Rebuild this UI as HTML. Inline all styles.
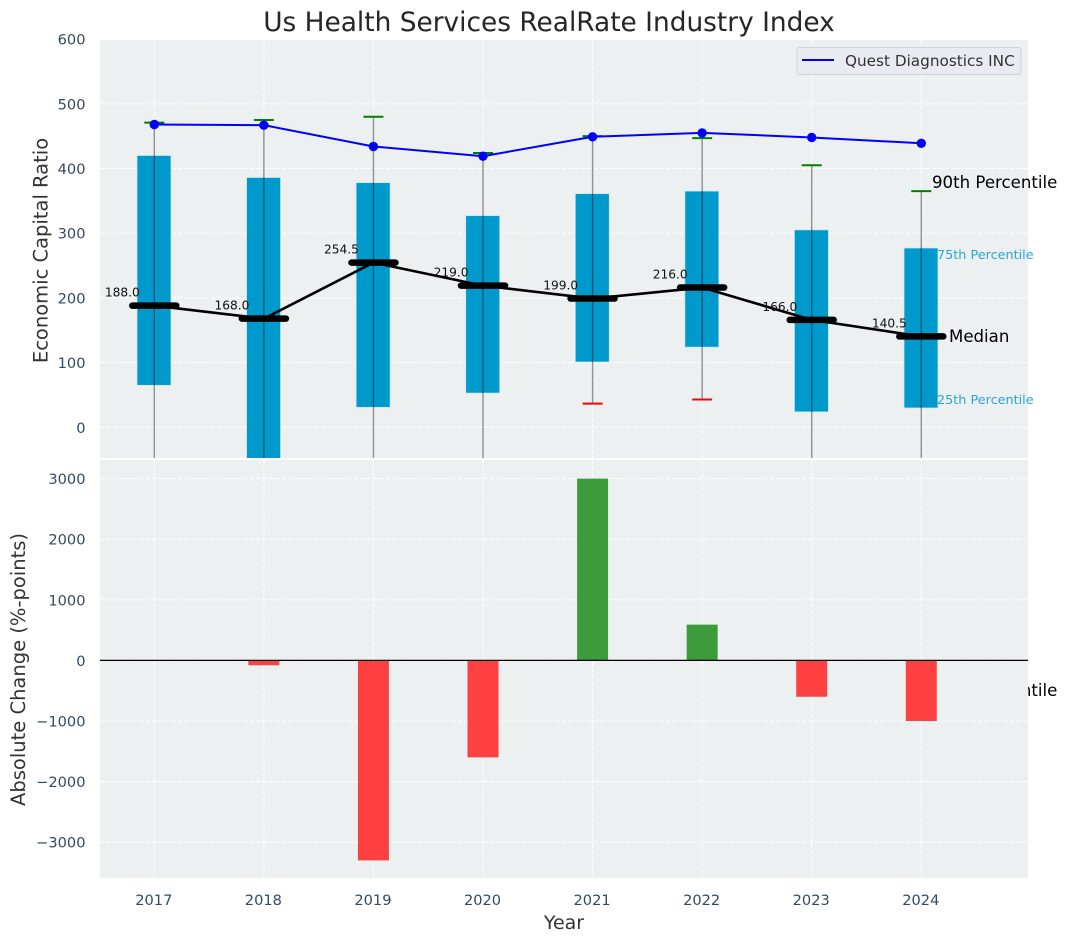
<!DOCTYPE html>
<html lang="en">
<head>
<meta charset="utf-8">
<title>Us Health Services RealRate Industry Index</title>
<style>
html,body{margin:0;padding:0;background:#fff;width:1067px;height:942px;overflow:hidden}
svg{display:block}
text{font-family:"DejaVu Sans","Liberation Sans",sans-serif}
</style>
</head>
<body>
<svg id="chart" xmlns="http://www.w3.org/2000/svg" width="1067" height="942" viewBox="0 0 1067 942">
  <defs>
    <clipPath id="clipTop"><rect x="100" y="40" width="928" height="418"/></clipPath>
    <clipPath id="clipBottom"><rect x="100" y="460" width="928" height="418"/></clipPath>
  </defs>
  <rect x="0" y="0" width="1067" height="942" fill="#ffffff"/>
  <text x="549" y="31" font-size="26.4" fill="#262626" text-anchor="middle">Us Health Services RealRate Industry Index</text>
  <rect x="100" y="40" width="928" height="418" fill="#ecf0f1"/>
  <g id="topGrid" clip-path="url(#clipTop)"></g>
  <g id="topMarks" clip-path="url(#clipTop)"></g>
  <g id="topLabels"></g>
  <text x="932" y="188" font-size="16.6" fill="#000">90th Percentile</text>
  <text x="937" y="259" font-size="12.8" fill="#2aa5d3">75th Percentile</text>
  <text x="949" y="342" font-size="16.6" fill="#000">Median</text>
  <text x="937" y="404" font-size="12.8" fill="#2aa5d3">25th Percentile</text>
  <text x="932" y="696" font-size="16.6" fill="#000">10th Percentile</text>
  <rect x="100" y="460" width="928" height="418" fill="#ecf0f1"/>
  <g id="bottomGrid" clip-path="url(#clipBottom)"></g>
  <g id="bottomMarks" clip-path="url(#clipBottom)"></g>
  <g id="ticks"></g>
  <text transform="translate(47.5,250.5) rotate(-90)" font-size="19.5" fill="#333" text-anchor="middle">Economic Capital Ratio</text>
  <text transform="translate(25,669.5) rotate(-90)" font-size="19.5" fill="#333" text-anchor="middle">Absolute Change (%-points)</text>
  <text x="564" y="929" font-size="19" fill="#333" text-anchor="middle">Year</text>
  <g>
    <rect x="797" y="47.5" width="224" height="27" rx="2.5" fill="#eaeaf2" stroke="#d0d0d4" stroke-width="1"/>
    <line x1="802" y1="60" x2="834" y2="60" stroke="#0000ff" stroke-width="2"/>
    <text x="845" y="66" font-size="15.25" fill="#333">Quest Diagnostics INC</text>
  </g>
</svg>
<script>
const years = [2017, 2018, 2019, 2020, 2021, 2022, 2023, 2024];
const p90 = [471, 475, 480, 424, 450, 447, 405, 365];
const p75 = [420, 386, 378, 327, 361, 365, 305, 277];
const medians = [188, 168, 254.5, 219, 199, 216, 166, 140.5];
const p25 = [65, -80, 31, 53, 101, 124, 24, 30];
const p10 = [-120, -160, -130, -110, 36.5, 43, -100, -90];
const companyValues = [468, 467, 434, 419, 449, 455, 448, 439];
const changes = [0, -80, -3300, -1600, 3000, 590, -600, -1000];
const topTicks = [0, 100, 200, 300, 400, 500, 600];
const bottomTicks = [-3000, -2000, -1000, 0, 1000, 2000, 3000];

const NS = 'http://www.w3.org/2000/svg';
const xScale = function (year) { return 154.3 + (year - 2017) * 109.57; };
const yTop = function (v) { return 427.3 - v * 0.647; };
const yBottom = function (v) { return 660.4 - v * 0.0606; };

function make(tag, parent, attrs) {
  const el = document.createElementNS(NS, tag);
  for (const k in attrs) el.setAttribute(k, attrs[k]);
  document.getElementById(parent).appendChild(el);
  return el;
}
const gridStyle = { stroke: '#ffffff', 'stroke-width': 1.1, 'stroke-dasharray': '4.5 2', 'stroke-opacity': 0.9 };

topTicks.forEach(function (t) {
  const y = yTop(t);
  const g = make('line', 'topGrid', Object.assign({ x1: 100, x2: 1028, y1: y, y2: y }, gridStyle));
  
  
  const l = make('text', 'ticks', { x: 85.5, y: y + 5.5, 'font-size': 14.6, fill: '#34495e', 'text-anchor': 'end' });
  l.textContent = String(t);
  
  
});
bottomTicks.forEach(function (t) {
  const y = yBottom(t);
  const g = make('line', 'bottomGrid', Object.assign({ x1: 100, x2: 1028, y1: y, y2: y }, gridStyle));
  
  
  const l = make('text', 'ticks', { x: 85.5, y: y + 5.5, 'font-size': 14.6, fill: '#34495e', 'text-anchor': 'end' });
  l.textContent = String(t).replace('-', '\u2212');
  
  
});
years.forEach(function (yr) {
  const x = xScale(yr);
  const a = make('line', 'topGrid', Object.assign({ x1: x, x2: x, y1: 40, y2: 458 }, gridStyle));
  
  
  const b = make('line', 'bottomGrid', Object.assign({ x1: x, x2: x, y1: 460, y2: 878 }, gridStyle));
  
  
  const l = make('text', 'ticks', { x: x - 0.5, y: 905, 'font-size': 14.6, fill: '#34495e', 'text-anchor': 'middle' });
  l.textContent = String(yr);
  
  
});

years.forEach(function (yr, i) {
  const x = xScale(yr);
  const box = make('rect', 'topMarks', { x: x - 17.2, y: yTop(p75[i]), width: 33.8, height: yTop(p25[i]) - yTop(p75[i]), fill: '#0099cc', stroke: '#bfe3ef', 'stroke-width': 0.6 });
  
  
});
years.forEach(function (yr, i) {
  const x = xScale(yr);
  const w = make('line', 'topMarks', { x1: x, x2: x, y1: yTop(p90[i]), y2: yTop(p10[i]), stroke: '#000', 'stroke-opacity': 0.42, 'stroke-width': 1.4 });
  
  
  const hi = make('line', 'topMarks', { x1: x - 10, x2: x + 10, y1: yTop(p90[i]), y2: yTop(p90[i]), stroke: '#008000', 'stroke-width': 2 });
  
  
  const lo = make('line', 'topMarks', { x1: x - 10, x2: x + 10, y1: yTop(p10[i]), y2: yTop(p10[i]), stroke: '#ff0000', 'stroke-width': 2 });
  
  
});

const medianPath = make('polyline', 'topMarks', { points: years.map(function (yr, i) { return xScale(yr) + ',' + yTop(medians[i]); }).join(' '), fill: 'none', stroke: '#000', 'stroke-width': 2.6 });



years.forEach(function (yr, i) {
  const x = xScale(yr);
  const y = yTop(medians[i]);
  const m = make('line', 'topMarks', { x1: x - 22, x2: x + 22, y1: y, y2: y, stroke: '#000', 'stroke-width': 6.5, 'stroke-linecap': 'round' });
  
  
  const t = make('text', 'topLabels', { x: x - 14.5, y: y - 9, 'font-size': 12.2, fill: '#111', 'text-anchor': 'end' });
  t.textContent = medians[i].toFixed(1);
  
  
});

const companyPath = make('polyline', 'topMarks', { points: years.map(function (yr, i) { return xScale(yr) + ',' + yTop(companyValues[i]); }).join(' '), fill: 'none', stroke: '#0000ff', 'stroke-width': 2 });


years.forEach(function (yr, i) {
  const d = make('circle', 'topMarks', { cx: xScale(yr), cy: yTop(companyValues[i]), r: 4.7, fill: '#0000ff' });
  
  
});

years.forEach(function (yr, i) {
  const v = changes[i];
  if (v === 0) return;
  const top = Math.min(yBottom(v), yBottom(0));
  const h = Math.abs(yBottom(v) - yBottom(0));
  const b = make('rect', 'bottomMarks', { x: xScale(yr) - 15.5, y: top, width: 31, height: h, fill: v > 0 ? '#3c9c3c' : '#ff4040' });
  
  
});
const zero = make('line', 'bottomMarks', { x1: 100, x2: 1028, y1: yBottom(0), y2: yBottom(0), stroke: '#000', 'stroke-width': 1.2 });


</script>
</body>
</html>
